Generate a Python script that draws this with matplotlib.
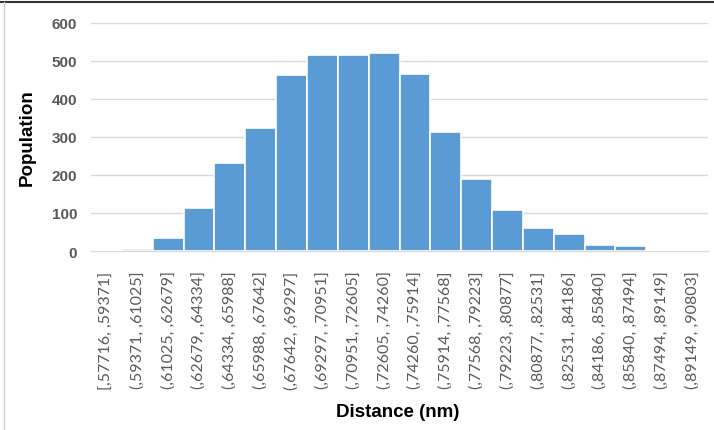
import matplotlib
matplotlib.use("Agg")
import matplotlib.pyplot as plt
from matplotlib.lines import Line2D

categories = ["[,57716, ,59371]", "(,59371, ,61025]", "(,61025, ,62679]", "(,62679, ,64334]",
              "(,64334, ,65988]", "(,65988, ,67642]", "(,67642, ,69297]", "(,69297, ,70951]",
              "(,70951, ,72605]", "(,72605, ,74260]", "(,74260, ,75914]", "(,75914, ,77568]",
              "(,77568, ,79223]", "(,79223, ,80877]", "(,80877, ,82531]", "(,82531, ,84186]",
              "(,84186, ,85840]", "(,85840, ,87494]", "(,87494, ,89149]", "(,89149, ,90803]"]
population = [1, 5, 34, 112, 231, 325, 462, 517, 517, 522, 467, 312, 190, 107, 60, 44, 17, 12, 0, 0]
yticks = [0, 100, 200, 300, 400, 500, 600]

plt.rcParams['font.family'] = ['Liberation Sans', 'DejaVu Sans']

fig = plt.figure(figsize=(7.14, 4.31), dpi=100)
ax = fig.add_axes([91/714, 1-252/431, 617/714, 228/431])

x = list(range(len(categories)))
ax.bar(x, population, width=1.0, color='#5B9BD5', edgecolor='white', linewidth=1.2, zorder=3)
ax.set_xlim(-0.5, len(categories)-0.5)
ax.set_ylim(0, 600)
ax.set_yticks(yticks)
ax.set_yticklabels([str(v) for v in yticks], fontsize=11, fontweight='bold', color='#595959')
ax.set_xticks(x)
ax.set_xticklabels(categories, rotation=90, fontsize=11.5, color='#595959', va='top',
                   family=['Lato', 'DejaVu Sans'])
ax.tick_params(axis='both', length=0)
ax.tick_params(axis='x', pad=14)
ax.tick_params(axis='y', pad=10)
ax.grid(axis='y', color='#D9D9D9', linewidth=1, zorder=0)
for s in ['top', 'right', 'left']:
    ax.spines[s].set_visible(False)
ax.spines['bottom'].set_color('#D9D9D9')
ax.spines['bottom'].set_linewidth(1)

fig.text(27/714, 1-138/431, 'Population', rotation=90, ha='center', va='center',
         fontsize=13.5, fontweight='bold', color='black')
fig.text(398/714, 1-413/431, 'Distance (nm)', ha='center', va='center',
         fontsize=13.5, fontweight='bold', color='black')

fig.add_artist(Line2D([0, 1], [1-3/431, 1-3/431], transform=fig.transFigure, color='#333333', linewidth=1.5))
fig.add_artist(Line2D([4/714, 4/714], [0, 1-3/431], transform=fig.transFigure, color='#CCCCCC', linewidth=1))

fig.savefig('out.png', dpi=100)
